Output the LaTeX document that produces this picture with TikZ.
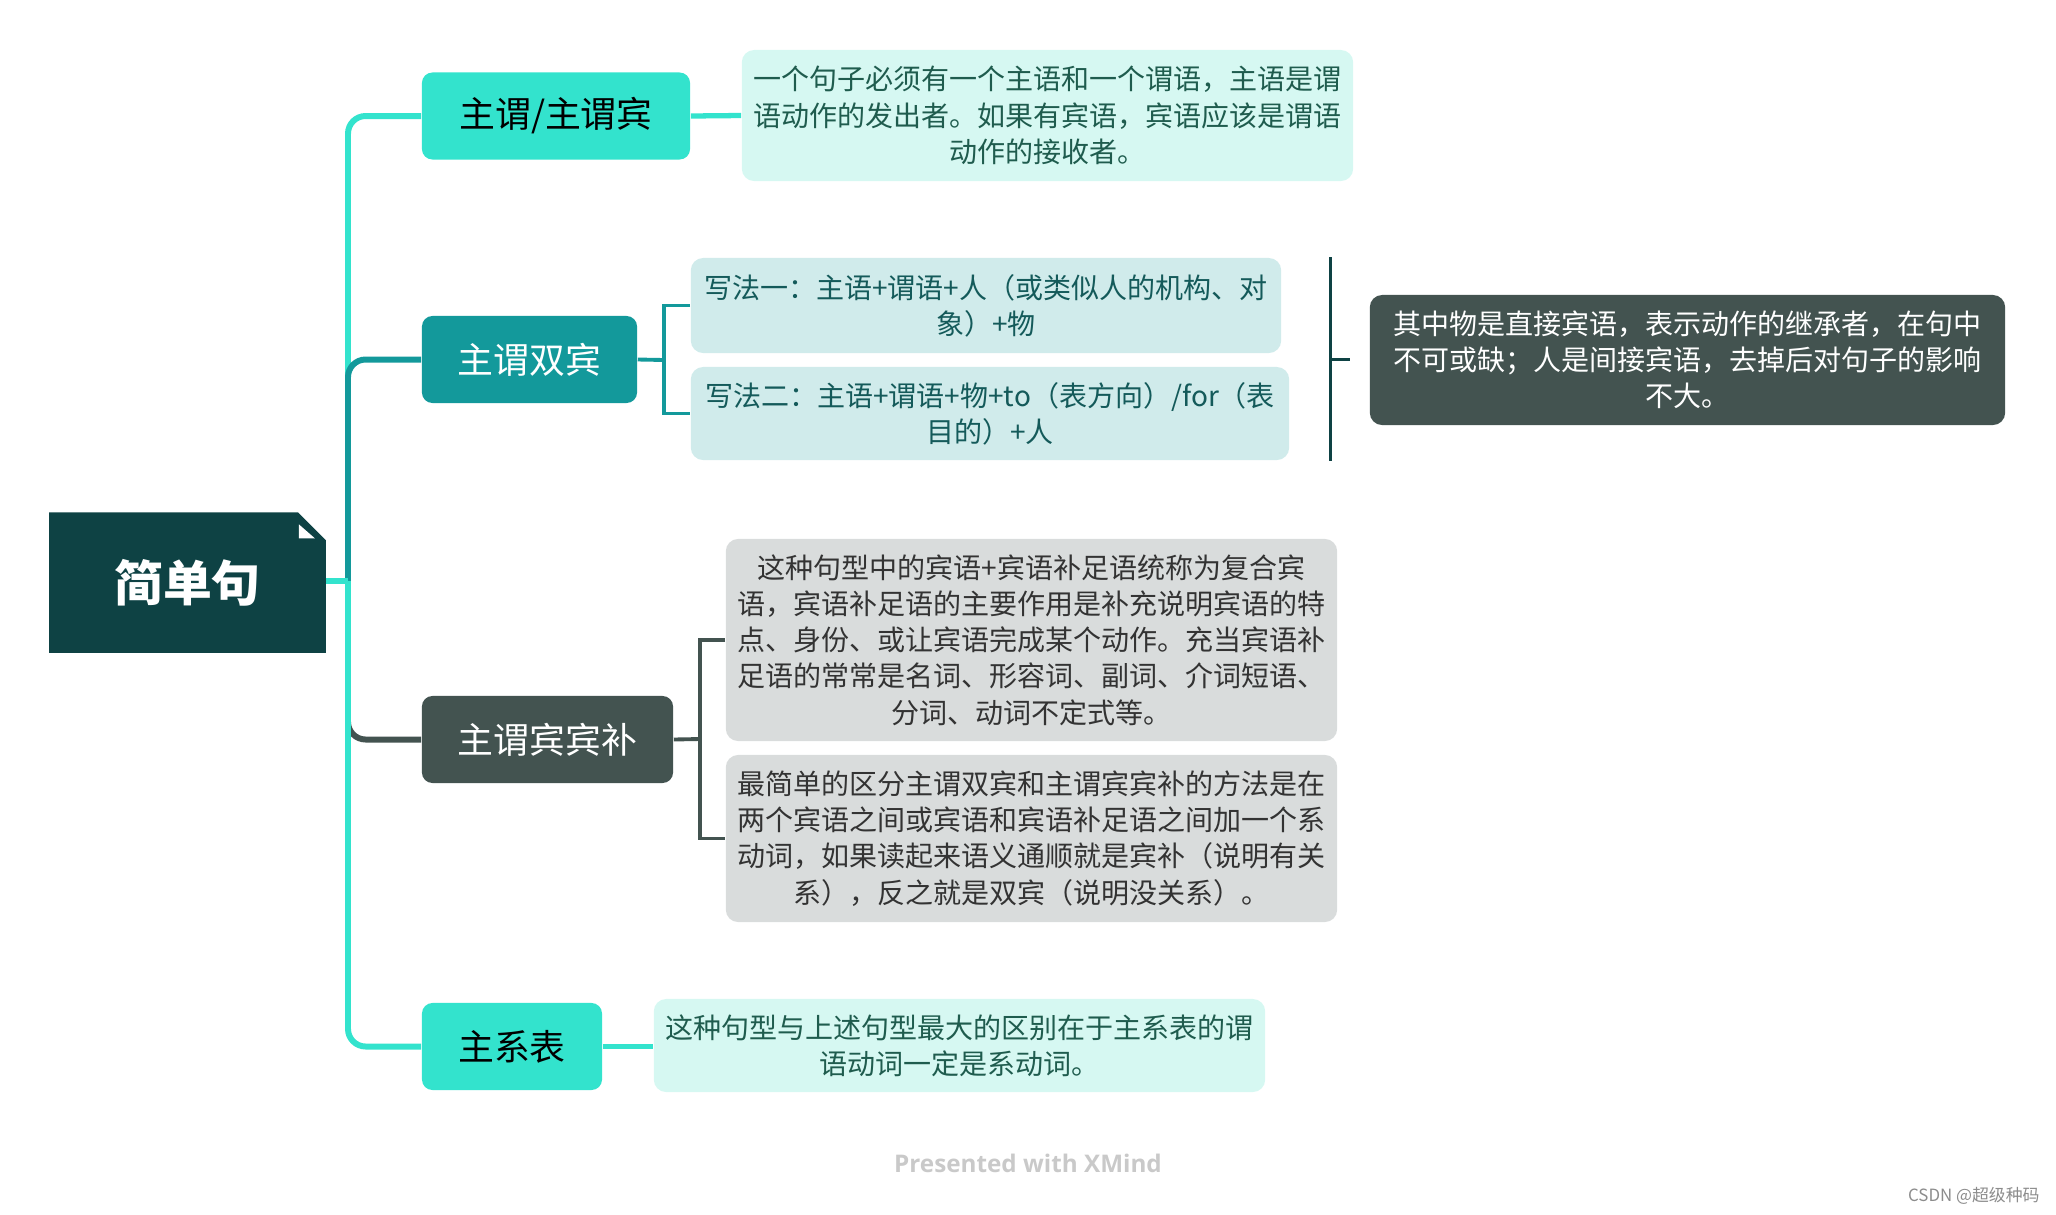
\documentclass[tikz,border=0pt]{standalone}
\usepackage{fontspec}
\setmainfont{Noto Sans CJK SC}
\newfontfamily\wmfont{Open Sans}
\usepackage{tikz}
\usetikzlibrary{calc, backgrounds}
\definecolor{rootC}{HTML}{0E4244}
\definecolor{accC}{HTML}{33E3CD}
\definecolor{accT}{HTML}{13999B}
\definecolor{accG}{HTML}{435350}
\definecolor{noteC}{HTML}{D6F8F2}
\definecolor{noteT}{HTML}{D0EBEB}
\definecolor{noteG}{HTML}{D9DCDC}
\definecolor{inkC}{HTML}{1F5C4E}
\definecolor{inkT}{HTML}{145A5A}
\definecolor{inkG}{HTML}{333333}
\tikzset{
  card/.style    ={rounded corners=3pt, inner sep=0pt, align=center},
  Lroot/.style   ={inner sep=0pt, minimum width=2.75cm, minimum height=1.39cm,
                   text=white, font=\fontsize{13.9}{16}\selectfont\bfseries},
  Lmain/.style   ={card, minimum height=0.87cm,
                   font=\fontsize{10.2}{12}\selectfont},
  Lmain-c/.style ={Lmain, fill=accC, text=black},
  Lmain-t/.style ={Lmain, fill=accT, text=white},
  Lmain-g/.style ={Lmain, fill=accG, text=white},
  Lnote/.style   ={card, rounded corners=3.5pt,
                   font=\fontsize{7.97}{10.3}\selectfont},
  Lnote-c/.style ={Lnote, fill=noteC, text=inkC},
  Lnote-t/.style ={Lnote, fill=noteT, text=inkT},
  Lnote-g/.style ={Lnote, fill=noteG, text=inkG},
  Lsum/.style    ={Lnote, fill=accG, text=white},
  branch/.style  ={line width=1.7pt, rounded corners=5pt},
  link/.style    ={line width=1.5pt},
  bracket/.style ={line width=1.1pt},
  sumline/.style ={line width=0.85pt, rootC},
}
\begin{document}
\begin{tikzpicture}[x=0.01cm, y=-0.01cm]
\useasboundingbox (0,0) rectangle (2056,1214);

\node[Lroot] (root) at (187.5,582.5) {简单句};
\begin{scope}[on background layer]
  \fill[rootC] (root.south west) |- ($(root.north east)+(-28,0)$)
    -- ($(root.north east)+(0,28)$) |- cycle;
\end{scope}
\fill[white] ($(root.north east)+(-27,12)$) -- ($(root.north east)+(-27,26)$)
  -- ($(root.north east)+(-11,26)$) -- cycle;

\node[Lmain-c, minimum width=2.68cm] (B1) at (556,116) {主谓/主谓宾};
\node[Lmain-t, minimum width=2.15cm] (B2) at (529.5,359.5) {主谓双宾};
\node[Lmain-g, minimum width=2.51cm] (B3) at (547.5,739.5) {主谓宾宾补};
\node[Lmain-c, minimum width=1.80cm] (B4) at (512,1046.5) {主系表};

\node[Lnote-c, minimum width=6.11cm, minimum height=1.31cm] (D1) at (1047.5,115.5)
  {一个句子必须有一个主语和一个谓语，主语是谓\\语动作的发出者。如果有宾语，宾语应该是谓语\\动作的接收者。};
\node[Lnote-t, minimum width=5.90cm, minimum height=0.95cm] (D2a) at (986,305.5)
  {写法一：主语+谓语+人（或类似人的机构、对\\象）+物};
\node[Lnote-t, minimum width=5.98cm, minimum height=0.93cm] (D2b) at (990,413.5)
  {写法二：主语+谓语+物+to（表方向）/for（表\\目的）+人};
\node[Lsum, minimum width=6.35cm, minimum height=1.30cm] (S2) at (1687.5,360)
  {其中物是直接宾语，表示动作的继承者，在句中\\不可或缺；人是间接宾语，去掉后对句子的影响\\不大。};
\node[Lnote-g, minimum width=6.11cm, minimum height=2.02cm] (D3a) at (1031.5,640)
  {这种句型中的宾语+宾语补足语统称为复合宾\\语，宾语补足语的主要作用是补充说明宾语的特\\点、身份、或让宾语完成某个动作。充当宾语补\\足语的常常是名词、形容词、副词、介词短语、\\分词、动词不定式等。};
\node[Lnote-g, minimum width=6.11cm, minimum height=1.67cm] (D3b) at (1031.5,838.5)
  {最简单的区分主谓双宾和主谓宾宾补的方法是在\\两个宾语之间或宾语和宾语补足语之间加一个系\\动词，如果读起来语义通顺就是宾补（说明有关\\系），反之就是双宾（说明没关系）。};
\node[Lnote-c, minimum width=6.11cm, minimum height=0.93cm] (D4) at (959.5,1045.5)
  {这种句型与上述句型最大的区别在于主系表的谓\\语动词一定是系动词。};

\coordinate (jn) at (348,581);
\foreach \b/\c in {B1/accC, B3/accG, B2/accT, B4/accC}
  \draw[branch, \c] (jn) |- (\b.west);
\draw[link, accC] (root.east |- jn) -- (jn);

\draw[link, accC] (B1.east) -- (D1.west);
\draw[link, accC] (B4.east) -- (B4.east -| D4.west);

\coordinate (b2j) at (664,360);
\draw[bracket, accT] (B2.east) -- (b2j);
\draw[bracket, accT] (D2a.west) -| (b2j) |- (D2b.west);

\coordinate (b3j) at (700,739);
\draw[bracket, accG] (B3.east) -- (b3j);
\draw[bracket, accG] (D3a.west) -| (b3j) |- (D3b.west);

\coordinate (sj) at (1330,359);
\coordinate (st) at (1350,359);
\draw[sumline] (sj |- D2a.north) -- (sj |- D2b.south);
\draw[sumline] (sj) -- (st);

\node[font=\wmfont\bfseries\fontsize{6.9}{8}\selectfont, text=black!21] (wm)
  at (1028,1163) {Presented with XMind};
\node[font=\fontsize{4.8}{6}\selectfont, text=black!45, anchor=east] (csdn)
  at (2052,1196) {CSDN @超级种码};

\end{tikzpicture}
\end{document}
